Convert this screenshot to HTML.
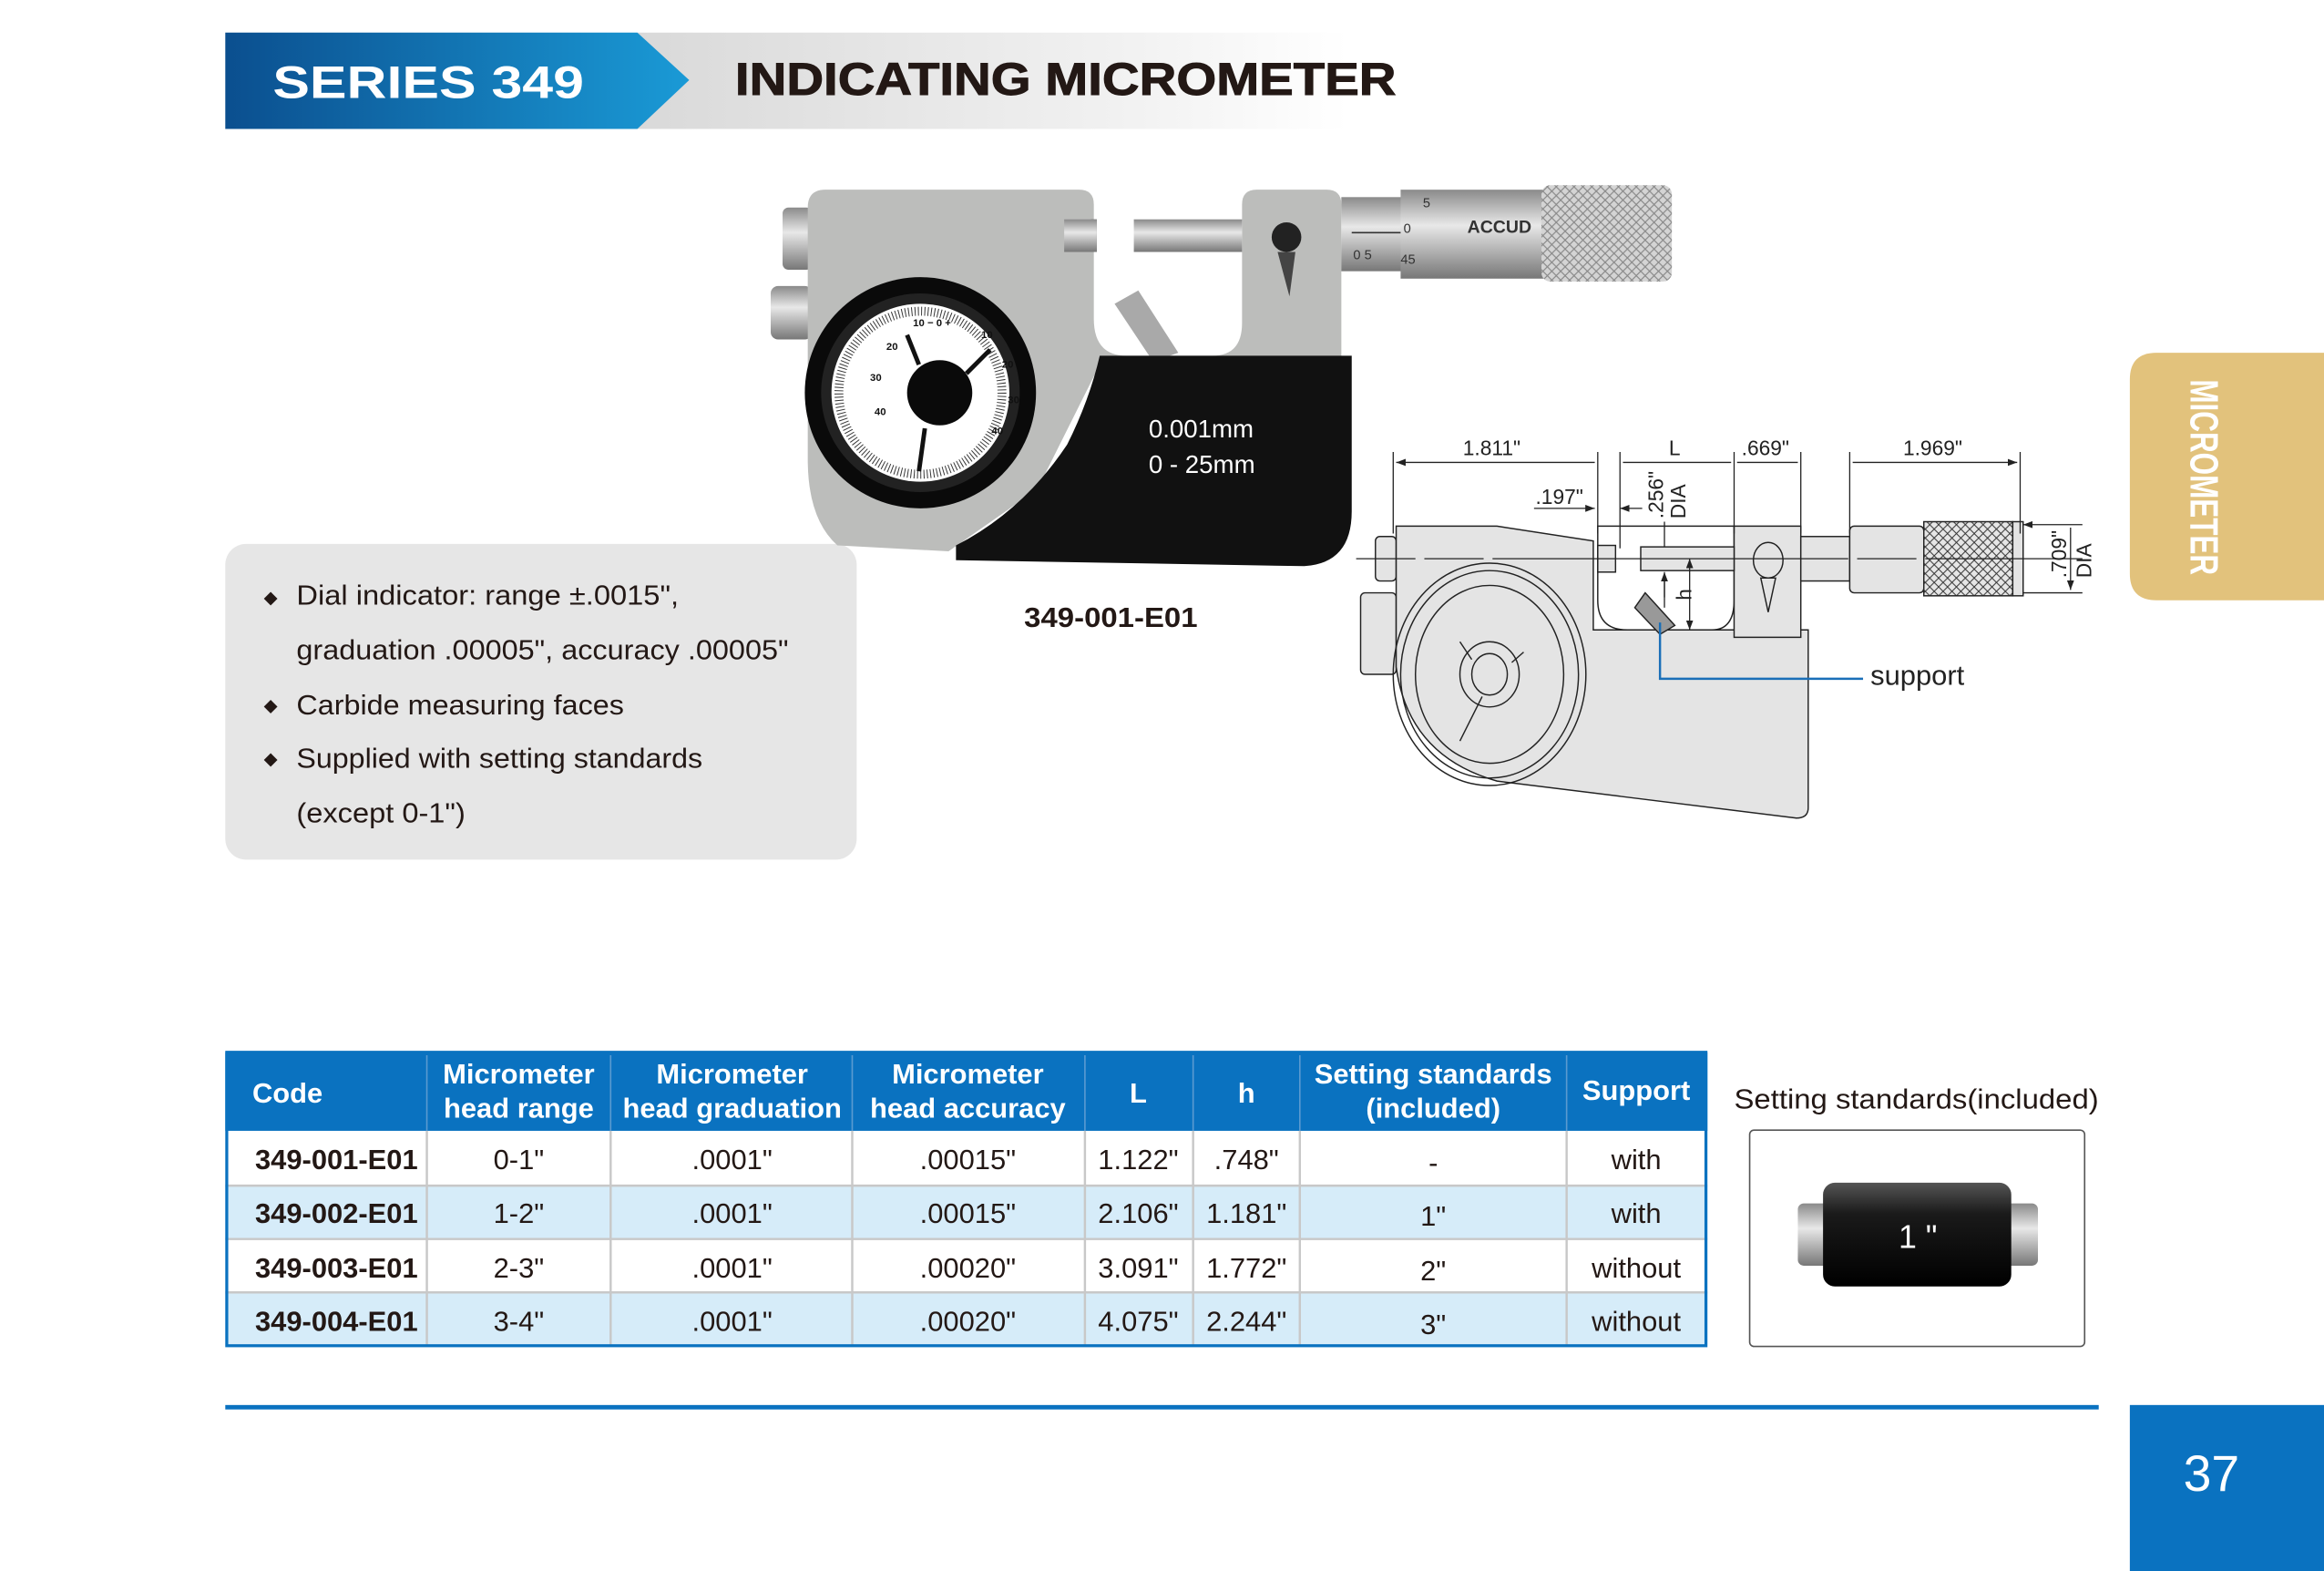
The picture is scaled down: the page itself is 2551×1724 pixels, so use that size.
<!DOCTYPE html>
<html><head><meta charset="utf-8"><style>
html,body{margin:0;padding:0;background:#fff;}
svg{display:block;}
text{font-family:"Liberation Sans",Arial,sans-serif;}
</style></head><body>
<svg width="2551" height="1724" viewBox="0 0 1568 1060" preserveAspectRatio="none" xmlns="http://www.w3.org/2000/svg">
<defs>
<linearGradient id="hb" x1="0" x2="1"><stop offset="0" stop-color="#0b4f8f"/><stop offset="1" stop-color="#1a9ad6"/></linearGradient>
<linearGradient id="hg" x1="0" x2="1"><stop offset="0" stop-color="#d9d9d9"/><stop offset="0.7" stop-color="#f2f2f2"/><stop offset="1" stop-color="#fff"/></linearGradient>
<linearGradient id="met" x1="0" y1="0" x2="0" y2="1"><stop offset="0" stop-color="#8a8a8a"/><stop offset="0.4" stop-color="#e8e8e8"/><stop offset="1" stop-color="#777"/></linearGradient>
<linearGradient id="cyl" x1="0" y1="0" x2="0" y2="1"><stop offset="0" stop-color="#555"/><stop offset="0.3" stop-color="#1a1a1a"/><stop offset="1" stop-color="#000"/></linearGradient>
<pattern id="kn" width="6" height="6" patternUnits="userSpaceOnUse"><rect width="6" height="6" fill="#d4d4d4"/><path d="M0 0L6 6M6 0L0 6" stroke="#888" stroke-width="0.7"/></pattern>
<pattern id="kn2" width="6" height="6" patternUnits="userSpaceOnUse"><rect width="6" height="6" fill="#e6e6e6"/><path d="M0 0L6 6M6 0L0 6" stroke="#333" stroke-width="0.6"/></pattern>
<marker id="ar" markerWidth="8" markerHeight="6" refX="8" refY="3" orient="auto-start-reverse"><path d="M0 0L8 3L0 6Z" fill="#222"/></marker>
</defs>

<!-- header -->
<rect x="430" y="22" width="480" height="65" fill="url(#hg)"/>
<path d="M152 22H430L465 54L430 87H152Z" fill="url(#hb)"/>
<text x="184" y="66" font-size="31" font-weight="bold" fill="#fff" textLength="210" lengthAdjust="spacingAndGlyphs">SERIES 349</text>
<text x="496" y="64" font-size="31" font-weight="bold" fill="#231815" textLength="446" lengthAdjust="spacingAndGlyphs" stroke="#231815" stroke-width="0.6">INDICATING MICROMETER</text>

<!-- side tab -->
<path d="M1568 238H1455Q1437 238 1437 256V387Q1437 405 1455 405H1568Z" fill="#e2c27c"/>
<text transform="translate(1478,256) rotate(90)" font-size="27" font-weight="bold" fill="#fff" textLength="132" lengthAdjust="spacingAndGlyphs">MICROMETER</text>

<!-- features box -->
<rect x="152" y="367" width="426" height="213" rx="14" fill="#e6e6e6"/>
<g font-size="19" fill="#231815">
<text x="178" y="407" font-size="12">◆</text><text x="200" y="408" textLength="258" lengthAdjust="spacingAndGlyphs">Dial indicator:  range ±.0015",</text>
<text x="200" y="445" textLength="332" lengthAdjust="spacingAndGlyphs">graduation .00005", accuracy .00005"</text>
<text x="178" y="480" font-size="12">◆</text><text x="200" y="482" textLength="221" lengthAdjust="spacingAndGlyphs">Carbide measuring faces</text>
<text x="178" y="516" font-size="12">◆</text><text x="200" y="518" textLength="274" lengthAdjust="spacingAndGlyphs">Supplied with setting standards</text>
<text x="200" y="555" textLength="114" lengthAdjust="spacingAndGlyphs">(except 0-1")</text>
</g>

<!-- photo micrometer -->
<rect x="528" y="140" width="20" height="42" rx="4" fill="url(#met)"/>
<rect x="520" y="193" width="28" height="36" rx="5" fill="url(#met)"/>
<path d="M545 140Q545 128 557 128H728Q738 128 738 138V215Q738 240 760 240H818Q838 240 838 218V138Q838 128 848 128H895Q905 128 905 138V250H740L700 330L640 372L565 368Q545 350 545 310Z" fill="#bcbdbb"/>
<rect x="736" y="148" width="4" height="22" fill="#555"/>
<rect x="718" y="148" width="22" height="22" fill="url(#met)"/>
<rect x="765" y="148" width="73" height="22" fill="url(#met)"/>
<path d="M752 205L768 196L795 238L778 244Z" fill="#a9a9a9"/>
<path d="M742 240H912V345Q912 380 880 382L645 378V368Q690 345 720 300Q735 270 742 240Z" fill="#111"/>
<circle cx="621" cy="265" r="78" fill="#0a0a0a"/>
<circle cx="621" cy="265" r="67" fill="#222"/>
<circle cx="621" cy="265" r="60" fill="#fff"/>
<circle cx="621" cy="265" r="55" fill="none" stroke="#333" stroke-width="6" stroke-dasharray="0.6 1.6"/>
<circle cx="634" cy="265" r="22" fill="#0a0a0a"/>
<path d="M612 226L620 246M668 236L652 252M624 289L620 318" stroke="#111" stroke-width="3"/>
<g font-size="7" font-weight="bold" fill="#111"><text x="616" y="220">10 − 0 +</text><text x="662" y="228">10</text><text x="598" y="236">20</text><text x="676" y="248">20</text><text x="587" y="257">30</text><text x="680" y="272">30</text><text x="590" y="280">40</text><text x="669" y="293">40</text></g>
<circle cx="868" cy="160" r="10" fill="#222"/>
<path d="M862 170L874 170L870 200Z" fill="#444"/>
<rect x="905" y="133" width="42" height="50" fill="url(#met)"/>
<rect x="945" y="128" width="97" height="60" fill="url(#met)"/>
<rect x="1040" y="125" width="88" height="65" rx="6" fill="url(#kn)"/>
<path d="M912 157H945" stroke="#333" stroke-width="1"/>
<text x="990" y="157" font-size="12" font-weight="bold" fill="#333">ACCUD</text>
<g font-size="9" fill="#333"><text x="913" y="175">0  5</text><text x="945" y="178">45</text><text x="960" y="140">5</text><text x="947" y="157">0</text></g>
<text x="775" y="295" font-size="17" fill="#fff">0.001mm</text>
<text x="775" y="319" font-size="17" fill="#fff">0 - 25mm</text>
<text x="691" y="423" font-size="19" font-weight="bold" fill="#231815" textLength="117" lengthAdjust="spacingAndGlyphs">349-001-E01</text>

<!-- schematic -->
<g stroke="#222" stroke-width="0.9" fill="#e4e4e4">
<rect x="928" y="362" width="14" height="30" rx="3"/>
<rect x="918" y="400" width="24" height="55" rx="3"/>
<path d="M942 355H1010L1075 365V425H1220V545Q1220 552 1212 552L1010 527Q950 510 942 450Z"/>
<path d="M1078 355V405Q1078 425 1098 425H1155Q1170 425 1170 405V355Z" fill="#fff"/>
<path d="M1170 355H1215V430H1170Z"/>
<rect x="1078" y="368" width="12" height="18"/>
<rect x="1107" y="369" width="63" height="16"/>
<rect x="1215" y="362" width="33" height="30"/>
<rect x="1248" y="355" width="50" height="45" rx="3"/>
<rect x="1298" y="352" width="60" height="50" fill="url(#kn2)"/>
<rect x="1358" y="352" width="7" height="50"/>
<ellipse cx="1005" cy="455" rx="65" ry="75" fill="none"/>
<ellipse cx="1005" cy="455" rx="60" ry="70" fill="none"/>
<ellipse cx="1005" cy="455" rx="50" ry="60" fill="none"/>
<ellipse cx="1005" cy="455" rx="20" ry="22" fill="none"/>
<ellipse cx="1005" cy="455" rx="12" ry="14" fill="none"/>
<path d="M1000 470L985 500M985 433L993 445M1028 440L1020 447" fill="none"/>
<ellipse cx="1193" cy="378" rx="10" ry="12" fill="none"/>
<path d="M1188 390L1198 390L1193 413Z"/>
<path d="M1103 410L1110 400L1130 422L1120 428Z" fill="#999"/>
</g>
<g stroke="#222" stroke-width="0.8" fill="none">
<path d="M915 377H1405" stroke-dasharray="40 6 40 6 200 0"/>
<path d="M940 305V360M1078 305V360M1093 305V370M1170 305V360M1215 305V360M1248 305V360M1363 305V360"/>
<path d="M942 312H1076M1095 312H1168M1172 312H1213M1250 312H1361" marker-start="url(#ar)" marker-end="url(#ar)"/>
<path d="M1035 343H1076" marker-end="url(#ar)"/><path d="M1108 343H1093" marker-end="url(#ar)"/>
<path d="M1123 352V369M1123 403V386" marker-end="url(#ar)"/>
<path d="M1123 392V410"/>
<path d="M1140 377V425" marker-start="url(#ar)" marker-end="url(#ar)"/>
<path d="M1365 354H1405M1365 400H1405M1397 356V398" marker-start="url(#ar)" marker-end="url(#ar)"/>
</g>
<path d="M1120 420V458H1257" stroke="#1a6fb8" stroke-width="1.5" fill="none"/>
<g font-size="14" fill="#222">
<text x="987" y="307">1.811"</text><text x="1126" y="307">L</text><text x="1175" y="307">.669"</text><text x="1284" y="307">1.969"</text>
<text x="1036" y="340">.197"</text>
<text transform="translate(1122,350) rotate(-90)">.256"</text>
<text transform="translate(1137,350) rotate(-90)">DIA</text>
<text transform="translate(1141,405) rotate(-90)">h</text>
<text transform="translate(1394,390) rotate(-90)">.709"</text>
<text transform="translate(1411,390) rotate(-90)">DIA</text>
</g>
<text x="1262" y="462" font-size="19" fill="#222">support</text>

<!-- table -->
<rect x="152" y="710" width="1000" height="53" fill="#0a72c0"/>
<rect x="152" y="800" width="1000" height="36" fill="#d6ecf9"/>
<rect x="152" y="872" width="1000" height="36" fill="#d6ecf9"/>
<g stroke="#c8c8c8" stroke-width="1.5">
<path d="M152 800H1152M152 836H1152M152 872H1152"/>
<path d="M288 763V908M412 763V908M575 763V908M732 763V908M805 763V908M877 763V908M1057 763V908"/>
</g>
<g stroke="#5a9ad0" stroke-width="1"><path d="M288 712V763M412 712V763M575 712V763M732 712V763M805 712V763M877 712V763M1057 712V763"/></g>
<rect x="153" y="710" width="998" height="198" fill="none" stroke="#0a72c0" stroke-width="2"/>
<g font-size="19" font-weight="bold" fill="#fff" text-anchor="middle">
<text x="194" y="744">Code</text>
<text x="350" y="731">Micrometer</text><text x="350" y="754">head range</text>
<text x="494" y="731">Micrometer</text><text x="494" y="754">head graduation</text>
<text x="653" y="731">Micrometer</text><text x="653" y="754">head accuracy</text>
<text x="768" y="744">L</text><text x="841" y="744">h</text>
<text x="967" y="731">Setting standards</text><text x="967" y="754">(included)</text>
<text x="1104" y="742">Support</text>
</g>
<g font-size="19" fill="#231815" text-anchor="middle">
<g font-weight="bold"><text x="227" y="789">349-001-E01</text><text x="227" y="825">349-002-E01</text><text x="227" y="862">349-003-E01</text><text x="227" y="898">349-004-E01</text></g>
<text x="350" y="789">0-1"</text><text x="350" y="825">1-2"</text><text x="350" y="862">2-3"</text><text x="350" y="898">3-4"</text>
<text x="494" y="789">.0001"</text><text x="494" y="825">.0001"</text><text x="494" y="862">.0001"</text><text x="494" y="898">.0001"</text>
<text x="653" y="789">.00015"</text><text x="653" y="825">.00015"</text><text x="653" y="862">.00020"</text><text x="653" y="898">.00020"</text>
<text x="768" y="789">1.122"</text><text x="768" y="825">2.106"</text><text x="768" y="862">3.091"</text><text x="768" y="898">4.075"</text>
<text x="841" y="789">.748"</text><text x="841" y="825">1.181"</text><text x="841" y="862">1.772"</text><text x="841" y="898">2.244"</text>
<text x="967" y="791">-</text><text x="967" y="827">1"</text><text x="967" y="864">2"</text><text x="967" y="900">3"</text>
<text x="1104" y="789">with</text><text x="1104" y="825">with</text><text x="1104" y="862">without</text><text x="1104" y="898">without</text>
</g>

<!-- setting standard -->
<text x="1170" y="748" font-size="19" fill="#231815" textLength="246" lengthAdjust="spacingAndGlyphs">Setting standards(included)</text>
<rect x="1180.5" y="762.5" width="226" height="146" rx="3" fill="#fff" stroke="#555" stroke-width="1"/>
<rect x="1213" y="812" width="25" height="42" rx="4" fill="url(#met)"/>
<rect x="1350" y="812" width="25" height="42" rx="4" fill="url(#met)"/>
<rect x="1230" y="798" width="127" height="70" rx="8" fill="url(#cyl)"/>
<text x="1294" y="842" font-size="22" fill="#fff" text-anchor="middle">1 "</text>

<!-- footer -->
<rect x="152" y="948" width="1264" height="3" fill="#0a72c0"/>
<rect x="1437" y="948" width="131" height="112" fill="#0a72c0"/>
<text x="1492" y="1006" font-size="34" fill="#fff" text-anchor="middle">37</text>
</svg>
</body></html>
